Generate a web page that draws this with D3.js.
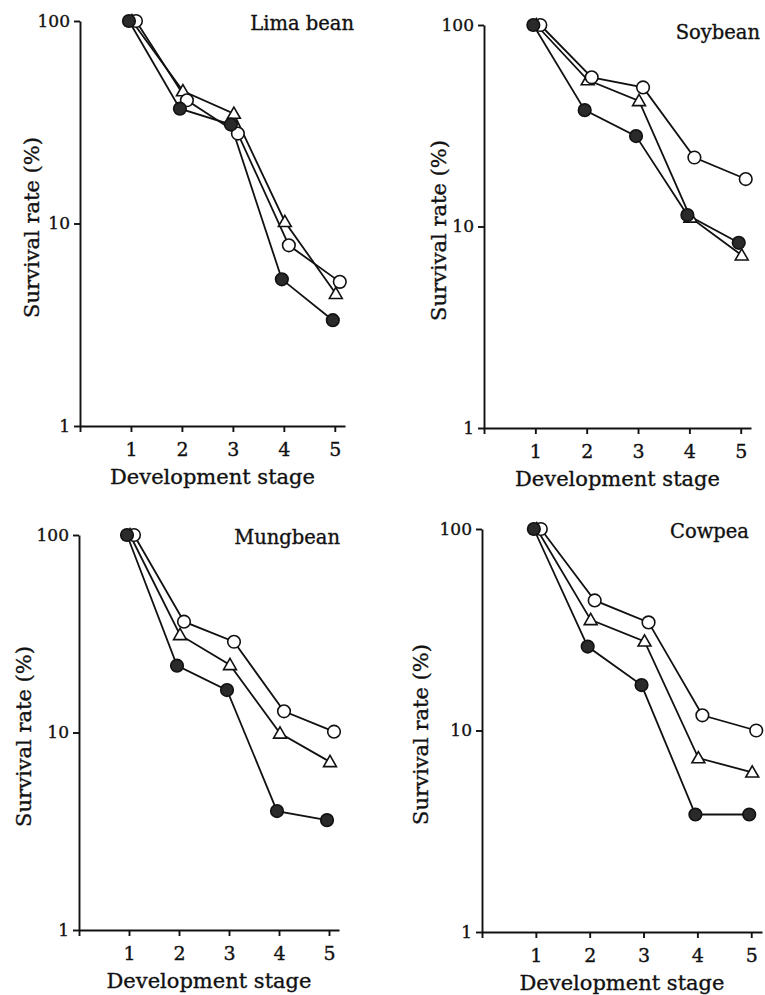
<!DOCTYPE html>
<html>
<head>
<meta charset="utf-8">
<script src="https://cdn.jsdelivr.net/npm/d3@7"></script>
<style>
  body { margin: 0; background: #fff; }
  .container svg { display: block; }
  text { font-family: "DejaVu Serif", "Liberation Serif", serif; fill: #111; stroke: #111; stroke-width: 0.35; }
  .axis path, .axis line { stroke: #111; stroke-width: 1.9; }
  .line { fill: none; stroke: #111; stroke-width: 1.8; }
</style>
</head>
<body>
<div class="container"></div>
<script>
var width = 765;
var height = 995;

var crops = ['Lima bean', 'Soybean', 'Mungbean', 'Cowpea'];
var stages = [1, 2, 3, 4, 5];
var yTicks = [1, 10, 100];

// survival rate (%) per stage, one row per crop
var filledValues = [
  [100, 36.9, 30.8, 5.3, 3.33],
  [100, 37.8, 28.1, 11.4, 8.3],
  [100, 21.8, 16.4, 4.0, 3.6],
  [100, 26.1, 16.8, 3.83, 3.83]
];
var openValues = [
  [100, 40.6, 27.8, 7.8, 5.15],
  [100, 55, 49, 22, 17.2],
  [100, 36.4, 28.8, 12.8, 10.1],
  [100, 44.2, 34.4, 11.9, 10.0]
];
var triangleValues = [
  [100, 45.1, 34.9, 10.2, 4.5],
  [100, 53.3, 42, 11.1, 7.2],
  [100, 31.2, 22.0, 9.9, 7.1],
  [100, 35.4, 27.7, 7.3, 6.2]
];

// panel placement: left/top of plot area, plot size, y-label distance
var layout = [
  {x: 80, y: 21, w: 265, h: 405, lab: 48},
  {x: 484, y: 25, w: 267, h: 403, lab: 45},
  {x: 79, y: 535, w: 260, h: 395, lab: 55},
  {x: 482, y: 529, w: 280, h: 403, lab: 61}
];

var translate = function(x, y) {
  return 'translate(' + x + ',' + y + ')';
};

var drawPanel = function(svg, i) {
  var L = layout[i];
  var g = svg.append('g').attr('transform', translate(L.x, L.y));

  var XScale = d3.scaleLinear().domain([0, 5.2]).range([0, L.w]);
  var YScale = d3.scaleLog().domain([1, 100]).range([L.h, 0]);

  var xAxis = d3.axisBottom(XScale)
    .tickValues([0].concat(stages))
    .tickSize(6).tickSizeOuter(0)
    .tickPadding(11)
    .tickFormat(function(d) { return d === 0 ? '' : d; });
  var yAxis = d3.axisLeft(YScale)
    .tickValues(yTicks)
    .tickSize(6).tickSizeOuter(0)
    .tickPadding(4)
    .tickFormat(d3.format('d'));

  g.append('g').attr('class', 'axis').attr('transform', translate(0, L.h))
    .call(xAxis)
    .selectAll('text').style('font-size', '19px');
  g.append('g').attr('class', 'axis')
    .call(yAxis)
    .selectAll('text').style('font-size', '17px');
  g.selectAll('.axis text')
    .attr('fill', '#111')
    .style('font-family', '"DejaVu Serif", serif');

  g.append('text')
    .attr('x', L.w / 2).attr('y', L.h + 58)
    .attr('text-anchor', 'middle')
    .style('font-size', '21px')
    .text('Development stage');

  g.append('text')
    .attr('transform', translate(-L.lab, L.h / 2 + 4) + ' rotate(-90)')
    .attr('text-anchor', 'middle')
    .attr('dy', '0.35em')
    .style('font-size', '21px')
    .text('Survival rate (%)');

  g.append('text')
    .attr('x', L.w + (i === 3 ? -13 : (i === 2 ? 1 : 9)))
    .attr('y', i === 1 ? 14 : 9)
    .attr('text-anchor', 'end')
    .style('font-size', '19.5px')
    .text(crops[i]);

  var series = [
    {vals: triangleValues[i], type: 'tri', dx: 1},
    {vals: openValues[i], type: 'open', dx: 5},
    {vals: filledValues[i], type: 'filled', dx: -2}
  ];

  series.forEach(function(s) {
    var pts = stages.map(function(st, k) { return {x: st, y: s.vals[k]}; });
    var line = d3.line()
      .x(function(d) { return XScale(d.x) + s.dx; })
      .y(function(d) { return YScale(d.y); });
    g.append('path').datum(pts).attr('class', 'line').attr('d', line);
  });

  series.forEach(function(s) {
    var pts = stages.map(function(st, k) { return {x: st, y: s.vals[k]}; });
    var mk = g.selectAll('.m-' + s.type).data(pts).enter();
    if (s.type === 'tri') {
      mk.append('path')
        .attr('d', d3.symbol().type(d3.symbolTriangle).size(72))
        .attr('transform', function(d) { return translate(XScale(d.x) + s.dx, YScale(d.y) + 1); })
        .attr('fill', '#fff').attr('stroke', '#111').attr('stroke-width', 1.6);
    } else {
      mk.append('circle')
        .attr('cx', function(d) { return XScale(d.x) + s.dx; })
        .attr('cy', function(d) { return YScale(d.y); })
        .attr('r', 6.3)
        .attr('fill', s.type === 'open' ? '#fff' : '#2a2a2a')
        .attr('stroke', '#111').attr('stroke-width', 1.6);
    }
  });
};

var draw = function() {
  var svg = d3.select('.container').append('svg')
    .attr('width', width)
    .attr('height', height);
  svg.append('rect').attr('width', width).attr('height', height).attr('fill', '#fff');
  for (var i = 0; i < crops.length; i++) drawPanel(svg, i);
};

window.onload = draw;
</script>
</body>
</html>
